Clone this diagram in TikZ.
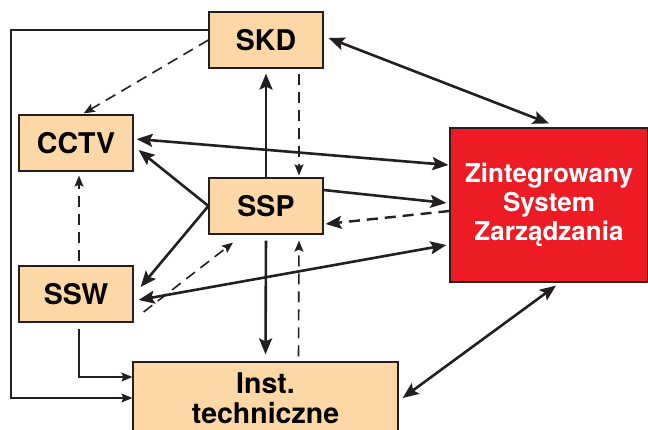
\documentclass[tikz,border=0pt]{standalone}
\usepackage{fontspec}
\setmainfont{TeX Gyre Heros}
\usepackage{tikz}
\usetikzlibrary{arrows.meta}
\definecolor{peach}{RGB}{253,216,166}
\definecolor{zred}{RGB}{237,28,36}
\definecolor{edge}{RGB}{35,31,32}
\tikzset{
  box/.style={draw=edge, fill=peach, line width=1.2pt, inner sep=0pt,
    minimum width=114pt, minimum height=56pt, align=center,
    font=\bfseries\fontsize{28.5}{30}\selectfont},
  bold/.style={draw=edge, line width=2.6pt},
  thinline/.style={draw=edge, line width=1.4pt},
  dashline/.style={draw=edge, line width=1.6pt, dash pattern=on 11pt off 7pt},
  tip/.style={-{Stealth[length=16pt,width=13pt,inset=3pt]}},
  tips/.style={{Stealth[length=16pt,width=13pt,inset=3pt]}-{Stealth[length=16pt,width=13pt,inset=3pt]}},
  smalltip/.style={-{Stealth[length=11pt,width=9pt,inset=2pt]}}
}
\begin{document}
\begin{tikzpicture}[x=1pt,y=-1pt]
  \useasboundingbox (0,0) rectangle (648,429);
  \clip (0,0) rectangle (648,429);
  \node[box] (skd) at (266,40) {SKD};
  \node[box] (cctv) at (76,143) {CCTV};
  \node[box] (ssp) at (266,206) {SSP};
  \node[box] (ssw) at (76,294) {SSW};
  \node[box, minimum width=265pt, minimum height=72pt] (inst) at (265.5,398) {Inst.\\techniczne};
  \node[box, fill=zred, text=white, minimum width=198pt, minimum height=154pt,
    font=\bfseries\fontsize{26}{29}\selectfont] (zsz) at (549,205) {Zintegrowany\\System\\Zarządzania};
  \coordinate (lc) at (11,398);
  % thin lines on the left
  \draw[thinline, smalltip] ([yshift=10pt]skd.west) -| (lc) -- (inst.west);
  \draw[thinline, smalltip, shorten <=6pt] ([xshift=3pt]ssw.south) |- ([yshift=21pt]inst.west);
  % dashed
  \draw[dashline, smalltip, shorten >=2pt] (skd.west) -- ([xshift=6pt]cctv.north);
  \draw[dashline, smalltip, shorten <=5pt, shorten >=2pt] ([xshift=33pt]skd.south) -- ([xshift=33pt]ssp.north);
  \draw[dashline, smalltip, shorten <=4pt, shorten >=4pt] ([xshift=3pt]ssw.north) -- ([xshift=3pt]cctv.south);
  \draw[dashline, smalltip] ([xshift=10pt,yshift=-18pt]ssw.east) -- ([xshift=-33pt,yshift=-8pt]ssp.south);
  \draw[dashline, smalltip, shorten <=5pt, shorten >=6pt] ([xshift=33pt]inst.north) -- ([xshift=33pt]ssp.south);
  \draw[dashline, line width=2.4pt, tip] ([yshift=-6pt]zsz.west) -- ([xshift=2pt,yshift=-18pt]ssp.east);
  % solid
  \draw[bold, tip, shorten >=5pt] (ssp.north) -- (skd.south);
  \draw[bold, tip] (ssp.west) -- ([xshift=5pt,yshift=-7pt]cctv.east);
  \draw[bold, tip] (ssp.west) -- ([xshift=7pt,yshift=7pt]ssw.east);
  \draw[bold, tip, shorten <=6pt, shorten >=7pt] (ssp.south) -- (inst.north);
  \draw[bold, tip] ([yshift=16pt]ssp.east) -- ([xshift=-3pt,yshift=2pt]zsz.west);
  \draw[bold, tips] ([xshift=5pt,yshift=2pt]skd.east) -- ([yshift=4pt]zsz.north);
  \draw[bold, tips] ([xshift=-1pt,yshift=40pt]zsz.west) -- ([xshift=3pt,yshift=4pt]cctv.east);
  \draw[bold, tips] ([xshift=-3pt,yshift=-40pt]zsz.west) -- ([xshift=5pt,yshift=-6pt]ssw.east);
  \draw[bold, tips] ([xshift=7pt,yshift=-3pt]zsz.south) -- ([xshift=4pt]inst.east);
\end{tikzpicture}
\end{document}
